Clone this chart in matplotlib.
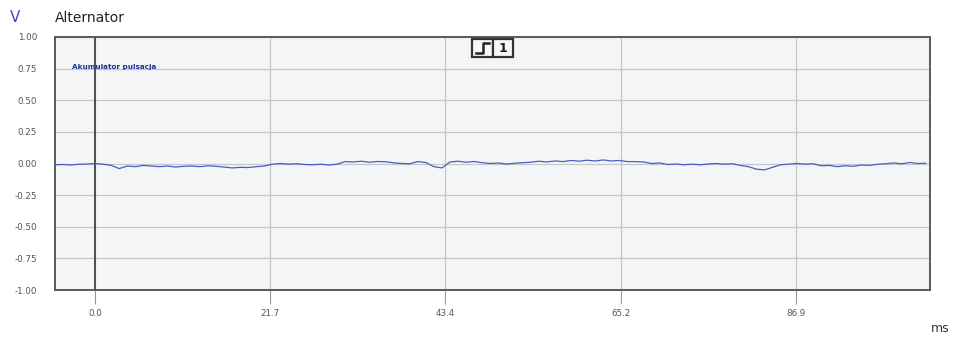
import matplotlib
matplotlib.use("Agg")
import matplotlib.pyplot as plt
from matplotlib.lines import Line2D
from matplotlib.patches import Rectangle
import numpy as np

# Data (time in ms, voltage in V)
t_start = -5
voltage = [
    -0.010, -0.008, -0.012, -0.006, -0.004,             # -5..-1
    0.000, -0.005, -0.015, -0.040, -0.020, -0.025, -0.015, -0.020, -0.025, -0.020,  # 0..9
    -0.028, -0.022, -0.020, -0.025, -0.018, -0.022, -0.028, -0.035, -0.030, -0.032,  # 10..19
    -0.025, -0.020, -0.005, 0.000, -0.005, -0.002, -0.008, -0.010, -0.006, -0.012,  # 20..29
    -0.005, 0.015, 0.012, 0.018, 0.010, 0.016, 0.014, 0.005, 0.000, -0.002,        # 30..39
    0.015, 0.008, -0.025, -0.035, 0.012, 0.018, 0.010, 0.016, 0.006, 0.000,        # 40..49
    0.004, -0.004, 0.002, 0.006, 0.010, 0.018, 0.012, 0.020, 0.015, 0.024,         # 50..59
    0.018, 0.026, 0.020, 0.028, 0.020, 0.024, 0.015, 0.015, 0.012, 0.000,          # 60..69
    0.004, -0.008, -0.004, -0.010, -0.006, -0.010, -0.004, 0.000, -0.005, -0.002,  # 70..79
    -0.015, -0.025, -0.045, -0.050, -0.030, -0.010, -0.005, 0.000, -0.005, -0.002, # 80..89
    -0.018, -0.015, -0.025, -0.018, -0.022, -0.012, -0.015, -0.006, -0.002, 0.004, # 90..99
    -0.002, 0.008, 0.000, 0.002,                                                     # 100..103
]
time = np.arange(len(voltage)) + t_start

x_ticks = [0.0, 21.7, 43.4, 65.2, 86.9]
x_tick_labels = ["0.0", "21.7", "43.4", "65.2", "86.9"]
y_ticks = [1.00, 0.75, 0.50, 0.25, 0.00, -0.25, -0.50, -0.75, -1.00]
y_tick_labels = ["1.00", "0.75", "0.50", "0.25", "0.00", "-0.25", "-0.50", "-0.75", "-1.00"]

W, H = 956, 339
fig = plt.figure(figsize=(W / 100, H / 100), dpi=100)
fig.patch.set_facecolor("white")
ax = fig.add_axes([55 / W, 1 - 290 / H, 875 / W, 253 / H])
ax.set_facecolor("#f3f5f6")

ax.set_xlim(-4.96, 103.5)
ax.set_ylim(-1.0, 1.0)

ax.set_xticks(x_ticks)
ax.set_xticklabels(x_tick_labels, fontsize=6.3, color="#555555")
ax.set_yticks(y_ticks)
ax.set_yticklabels(y_tick_labels, fontsize=6.3, color="#555555")
ax.tick_params(axis="x", length=10, width=0.8, color="#999999", pad=4, direction="out")
ax.tick_params(axis="y", length=0, pad=13)
ax.grid(True, color="#c4c8ca", linewidth=0.9)
ax.set_axisbelow(True)

for side in ["top", "bottom", "left", "right"]:
    ax.spines[side].set_color("#5a5a5a")
    ax.spines[side].set_linewidth(1.4)

ax.axvline(0.0, color="#444444", linewidth=1.3, zorder=2)

ax.plot(time, voltage, color="#4a5cc4", linewidth=0.9, zorder=3)

# Texts
fig.text(15 / W, 1 - 18 / H, "V", fontsize=11, color="#3a4fb8", va="center", ha="center")
fig.text(55 / W, 1 - 18 / H, "Alternator", fontsize=10, color="#222222", va="center", ha="left")
fig.text(940 / W, 1 - 329 / H, "ms", fontsize=9, color="#333333", va="center", ha="center")
ax.text((72 - 55) / 875, (290 - 67) / 253, "Akumulator pulsacja",
        transform=ax.transAxes, fontsize=5.2, color="#1f3196", fontweight="bold",
        va="center", ha="left")

# Trigger indicator boxes
for (x0, x1) in [(472, 493), (493, 513)]:
    fig.patches.append(Rectangle((x0 / W, 1 - 57 / H), (x1 - x0) / W, 18 / H,
                                 transform=fig.transFigure, facecolor="#f8f8f8",
                                 edgecolor="#333333", linewidth=1.6))
fig.lines.append(Line2D([476 / W, 483 / W, 483 / W, 489 / W],
                        [1 - 53 / H, 1 - 53 / H, 1 - 43 / H, 1 - 43 / H],
                        transform=fig.transFigure, color="#222222", linewidth=1.8))
fig.text(503 / W, 1 - 48 / H, "1", fontsize=9, fontweight="bold", color="#222222",
         va="center", ha="center")

fig.savefig("out.png", dpi=100)
